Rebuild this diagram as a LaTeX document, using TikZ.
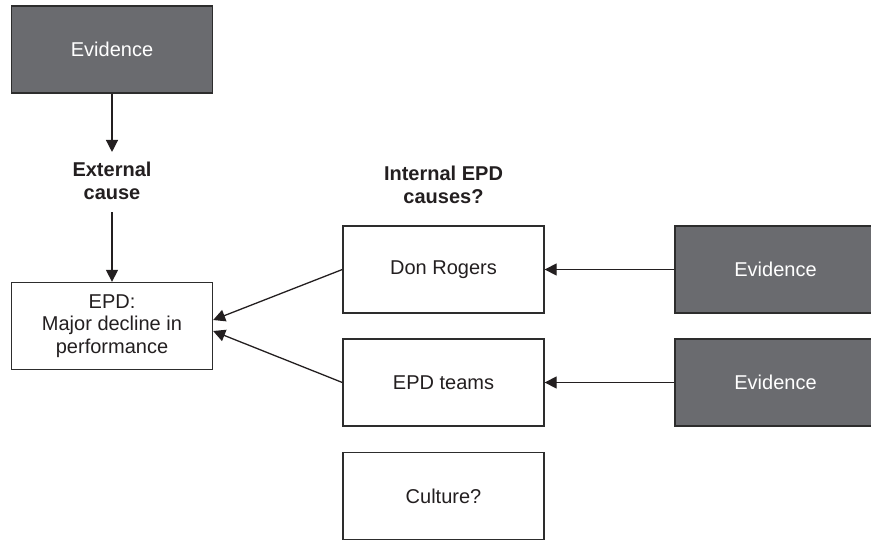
\documentclass[tikz,border=0pt]{standalone}
\usepackage{fontspec}
\setmainfont{Liberation Sans}
\usetikzlibrary{arrows.meta}
\definecolor{evfill}{RGB}{106,107,111}
\definecolor{ink}{RGB}{35,31,32}
\definecolor{edge}{RGB}{45,45,45}
\begin{document}
\begin{tikzpicture}[x=0.5pt,y=-0.5pt,
  box/.style={draw=edge,line width=0.65pt,fill=white,minimum width=100.5pt,minimum height=43.5pt,
    inner sep=0pt,align=center,text=ink,font=\fontsize{10}{11.3}\selectfont},
  evbox/.style={box,fill=evfill,text=white},
  label/.style={inner sep=0pt,align=center,text=ink,font=\fontsize{10}{11.3}\selectfont\bfseries},
  link/.style={draw=ink,line width=0.65pt,-{Triangle[length=6pt,width=6pt]}}]
  \useasboundingbox (0,0) rectangle (871,540);

  % external side
  \node[evbox] (evtop) at (112,49.5) {Evidence};
  \node[label] (ext) at (112,181) {External\\cause};
  \node[box] (epd) at (112,326) {EPD:\\Major decline in\\performance};

  % internal causes
  \node[label] (int) at (443.5,185) {Internal EPD\\causes?};
  \node[box] (don) at (443.5,269.5) {Don Rogers};
  \node[box] (teams) at (443.5,382.5) {EPD teams};
  \node[box] (culture) at (443.5,496) {Culture?};

  % evidence for internal causes (running off the right edge)
  \node[evbox] (evdon) at (775.5,269.5) {Evidence};
  \node[evbox] (evteams) at (775.5,382.5) {Evidence};

  % arrow targets on the EPD box
  \coordinate (epdA) at ([yshift=3pt]epd.east);
  \coordinate (epdB) at ([yshift=-2.5pt]epd.east);

  \draw[link,shorten >=5pt] (evtop.south) -- (ext.north);
  \draw[link,shorten <=6pt] (ext.south) -- (epd.north);
  \draw[link] (don.west) -- (epdA);
  \draw[link] (teams.west) -- (epdB);
  \draw[link] (evdon.west) -- (don.east);
  \draw[link] (evteams.west) -- (teams.east);
\end{tikzpicture}
\end{document}
